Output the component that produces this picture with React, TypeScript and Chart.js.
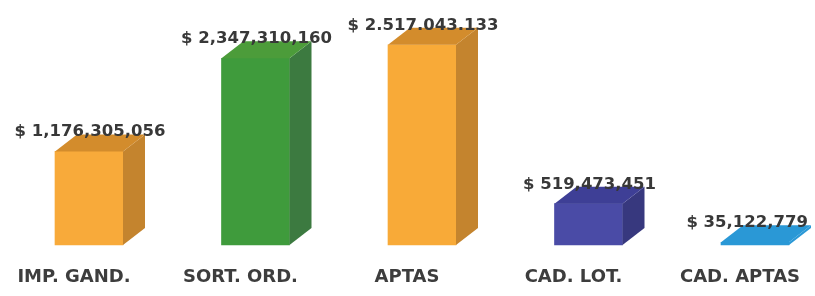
import React, { useEffect, useRef } from "react";
import { Chart, registerables } from "chart.js";

Chart.register(...registerables);

const categories = ["IMP. GAND.", "SORT. ORD.", "APTAS", "CAD. LOT.", "CAD. APTAS"];
const values = [1176305056, 2347310160, 2517043133, 519473451, 35122779];
const valueLabels = [
  "$ 1,176,305,056",
  "$ 2,347,310,160",
  "$ 2.517.043.133",
  "$ 519,473,451",
  "$ 35,122,779",
];
const yMax = 3080000000;

const frontColors = ["#F8AA3A", "#3F9B3C", "#F8AA38", "#4A4BA6", "#2A98D6"];
const sideColors = ["#C4842E", "#3C7A40", "#C4842E", "#37387E", "#2A98D6"];
const topColors = ["#D38C2C", "#4C9C3A", "#D38C2C", "#3E3F96", "#2A98D6"];

const DEPTH_X = 22;
const DEPTH_Y = -17;

const bar3d = {
  id: "bar3d",
  afterDatasetsDraw(chart: any) {
    const ctx = chart.ctx;
    const meta = chart.getDatasetMeta(0);
    ctx.save();
    meta.data.forEach((bar: any, i: number) => {
      const { x, y, base, width } = bar.getProps(["x", "y", "base", "width"], true);
      const l = x - width / 2;
      const r = x + width / 2;
      ctx.fillStyle = sideColors[i];
      ctx.beginPath();
      ctx.moveTo(r, y);
      ctx.lineTo(r + DEPTH_X, y + DEPTH_Y);
      ctx.lineTo(r + DEPTH_X, base + DEPTH_Y);
      ctx.lineTo(r, base);
      ctx.closePath();
      ctx.fill();
      ctx.fillStyle = topColors[i];
      ctx.beginPath();
      ctx.moveTo(l, y);
      ctx.lineTo(l + DEPTH_X, y + DEPTH_Y);
      ctx.lineTo(r + DEPTH_X, y + DEPTH_Y);
      ctx.lineTo(r, y);
      ctx.closePath();
      ctx.fill();
      ctx.fillStyle = "#383838";
      ctx.font = "bold 16.5px 'DejaVu Sans'";
      ctx.textAlign = "center";
      ctx.textBaseline = "alphabetic";
      const tw = ctx.measureText(valueLabels[i]).width;
      let cx = x + 1;
      const maxRight = chart.width - 7;
      if (cx + tw / 2 > maxRight) cx = maxRight - tw / 2;
      ctx.fillText(valueLabels[i], cx, y + DEPTH_Y + 2);
    });
    ctx.restore();
  },
};

export default function App() {
  const ref = useRef<HTMLCanvasElement | null>(null);
  useEffect(() => {
    if (!ref.current) return;
    const chart = new Chart(ref.current, {
      type: "bar",
      data: {
        labels: categories,
        datasets: [
          {
            data: values,
            backgroundColor: frontColors,
            barThickness: 68,
            clip: false as any,
          },
        ],
      },
      options: {
        animation: false,
        responsive: false,
        devicePixelRatio: 1,
        layout: { padding: { left: 89, right: 60, top: 0, bottom: 0 } },
        plugins: { legend: { display: false }, tooltip: { enabled: false } },
        scales: {
          x: {
            offset: false,
            grid: { display: false, drawTicks: false },
            border: { display: false },
            ticks: {
              autoSkip: false,
              maxRotation: 0,
              padding: 22,
              labelOffset: -15,
              color: "#3d3d3d",
              font: { family: "DejaVu Sans", weight: "bold", size: 18 },
            },
            afterFit: (s: any) => {
              s.height = 51;
              s.paddingLeft = 0;
              s.paddingRight = 0;
            },
          },
          y: { display: false, min: 0, max: yMax },
        },
      },
      plugins: [bar3d],
    });
    return () => chart.destroy();
  }, []);
  return (
    <div style={{ position: "absolute", left: 0, top: 0, width: 815, height: 296, background: "#fff" }}>
      <canvas ref={ref} width={815} height={296} />
    </div>
  );
}
